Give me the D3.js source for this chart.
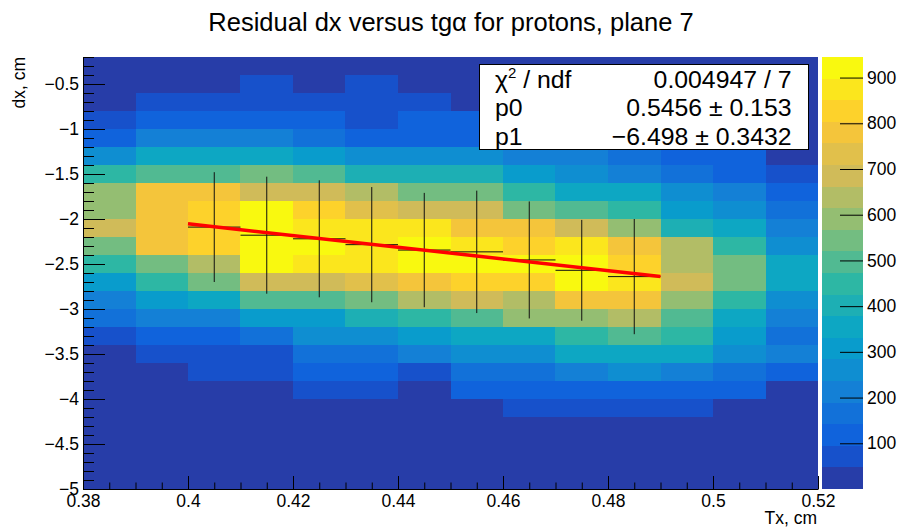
<!doctype html>
<html>
<head>
<meta charset="utf-8">
<title>Residual dx versus tgα for protons, plane 7</title>
<script src="https://d3js.org/d3.v7.min.js"></script>
<style>
  body { margin:0; background:#fff; }
  svg { display:block; font-family:"Liberation Sans", Arial, Helvetica, sans-serif; }
  .axis path, .axis line { stroke:#000; stroke-width:1; }
  .axis text { font-size:17.5px; fill:#000; }
</style>
</head>
<body>
<svg id="chart" width="902" height="529"></svg>
<script>

// bin edges of the 2D histogram
var txEdges = [0.38, 0.39, 0.40, 0.41, 0.42, 0.43, 0.44, 0.45, 0.46, 0.47, 0.48, 0.49, 0.50, 0.51, 0.52];
var dxEdges = [-0.2, -0.4, -0.6, -0.8, -1.0, -1.2, -1.4, -1.6, -1.8, -2.0, -2.2, -2.4, -2.6,
               -2.8, -3.0, -3.2, -3.4, -3.6, -3.8, -4.0, -4.2, -4.4, -4.6, -4.8, -5.0];

// bin contents, one row per dx bin (top row first), one column per Tx bin
var counts = [
  [ 12,  18,  21,  30,  24,  33,  20,  26,  31,  22,  17,  14,  10,   6],
  [ 25,  38,  44,  62,  41,  58,  45,  43,  55,  40,  35,  27,  19,  11],
  [ 42,  68,  76,  83,  79,  71,  74,  46,  72,  66,  60,  52,  39,  20],
  [ 88, 121, 132, 128, 117,  85, 112, 105, 110,  98,  89,  73,  56,  33],
  [124, 206, 218, 201, 172, 131, 136, 129, 150, 158, 118, 102,  78,  41],
  [254, 348, 356, 341, 305, 262, 251, 268, 213, 198, 171, 130, 112,  44],
  [447, 493, 506, 541, 488, 395, 402, 388, 301, 257, 210, 166, 120,  82],
  [588, 778, 772, 690, 681, 632, 546, 552, 438, 349, 342, 262, 205, 118],
  [596, 785, 822, 928, 819, 741, 688, 675, 533, 497, 440, 305, 248, 160],
  [671, 792, 826, 935, 872, 866, 862, 781, 770, 684, 592, 401, 352, 209],
  [538, 769, 831, 941, 915, 878, 912, 871, 829, 868, 772, 630, 445, 255],
  [442, 536, 641, 929, 877, 869, 918, 925, 908, 916, 825, 628, 537, 344],
  [301, 439, 548, 683, 675, 731, 781, 818, 812, 906, 860, 681, 541, 351],
  [206, 298, 346, 494, 502, 531, 637, 669, 642, 771, 766, 587, 440, 256],
  [162, 210, 218, 305, 299, 390, 437, 491, 585, 592, 626, 493, 352, 205],
  [ 73, 116, 121, 168, 252, 264, 311, 347, 352, 445, 487, 428, 300, 160],
  [ 36,  66,  78,  84, 156, 171, 212, 254, 262, 344, 357, 340, 259, 194],
  [ 18,  34,  62,  73, 112, 123,  82, 151, 162, 204, 245, 199, 158, 110],
  [  9,  21,  30,  37,  64,  70,  43, 104, 108, 117, 113, 110, 101,  38],
  [  6,  11,  16,  19,  26,  29,  22,  39,  60,  68,  66,  58,  35,  21],
  [  4,   6,   8,  11,  14,  15,  13,  17,  24,  28,  30,  26,  16,   9],
  [  2,   3,   5,   6,   7,   8,   7,   9,  11,  13,  14,  12,   8,   5],
  [  1,   2,   2,   3,   3,   4,   3,   4,   5,   6,   6,   5,   4,   2],
  [  1,   1,   1,   2,   2,   2,   2,   2,   3,   3,   3,   3,   2,   1]
];
var zMax = 945;

// profile points (mean dx and spread per Tx bin)
var profTx   = [0.405, 0.415, 0.425, 0.435, 0.445, 0.455, 0.465, 0.475, 0.485];
var profMean = [-2.09, -2.18, -2.22, -2.285, -2.345, -2.365, -2.455, -2.57, -2.64];
var profErr  = [0.61, 0.65, 0.65, 0.64, 0.635, 0.68, 0.65, 0.56, 0.64];
var profHalfWidth = 0.005;

// linear fit pol1
var fitRange = [0.40, 0.49];
var fitP0 = 0.5456, fitP1 = -6.498;
var statsRows = [
  {name: "ndf", value: "0.004947 / 7"},
  {name: "p0",  value: "0.5456 \u00b1 0.153"},
  {name: "p1",  value: "\u22126.498 \u00b1 0.3432"}
];

// axis ticks
var xTicks = [0.38, 0.40, 0.42, 0.44, 0.46, 0.48, 0.50, 0.52];
var xTickLabels = ["0.38", "0.4", "0.42", "0.44", "0.46", "0.48", "0.5", "0.52"];
var yTicks = [-5, -4.5, -4, -3.5, -3, -2.5, -2, -1.5, -1, -0.5];
var yTickLabels = ["\u22125", "\u22124.5", "\u22124", "\u22123.5", "\u22123", "\u22122.5", "\u22122", "\u22121.5", "\u22121", "\u22120.5"];
var zTicks = [100, 200, 300, 400, 500, 600, 700, 800, 900];

// ROOT kBird palette
var birdStops = [0.0, 0.125, 0.25, 0.375, 0.5, 0.625, 0.75, 0.875, 1.0];
var birdRed   = [0.2082, 0.0592, 0.0780, 0.0232, 0.1802, 0.5301, 0.8186, 0.9956, 0.9764];
var birdGreen = [0.1664, 0.3599, 0.5041, 0.6419, 0.7178, 0.7492, 0.7328, 0.7862, 0.9832];
var birdBlue  = [0.5293, 0.8684, 0.8385, 0.7914, 0.6425, 0.4662, 0.3499, 0.1968, 0.0539];
var nContours = 20;

var margin = {left: 83, right: 818, top: 57, bottom: 489};

var svg = d3.select("#chart");

var x = d3.scaleLinear().domain([0.38, 0.52]).range([margin.left, margin.right]);
var y = d3.scaleLinear().domain([-5, -0.2]).range([margin.bottom, margin.top]);

var bird = d3.scaleLinear()
    .domain(birdStops)
    .range(birdStops.map(function(s, i) {
      return d3.rgb(birdRed[i] * 255, birdGreen[i] * 255, birdBlue[i] * 255);
    }));
var levelColors = d3.range(nContours).map(function(i) {
  return bird(Math.floor((i + 0.99) * 255 / nContours) / 255);
});
var color = d3.scaleQuantize().domain([0, zMax]).range(levelColors);

// cells
var cells = [];
counts.forEach(function(row, r) {
  row.forEach(function(v, c) {
    cells.push({r: r, c: c, v: v});
  });
});

svg.append("g")
  .attr("shape-rendering", "crispEdges")
  .selectAll("rect")
  .data(cells)
  .join("rect")
    .attr("x", function(d) { return Math.round(x(txEdges[d.c])); })
    .attr("y", function(d) { return Math.round(y(dxEdges[d.r])); })
    .attr("width", function(d) { return Math.round(x(txEdges[d.c + 1])) - Math.round(x(txEdges[d.c])); })
    .attr("height", function(d) { return Math.round(y(dxEdges[d.r + 1])) - Math.round(y(dxEdges[d.r])); })
    .attr("fill", function(d) { return color(d.v); });

// axes
var xMinor = d3.range(0.38, 0.5201, 0.005);
var yMinor = d3.range(-5, -0.19, 0.1);

svg.append("g").attr("class", "axis")
  .attr("transform", "translate(0," + margin.bottom + ")")
  .call(d3.axisBottom(x).tickValues(xMinor).tickSize(-6.5).tickFormat(""))
  .call(function(g) { g.select(".domain").remove(); });

svg.append("g").attr("class", "axis")
  .attr("transform", "translate(0," + margin.bottom + ")")
  .call(d3.axisBottom(x).tickValues(xTicks).tickSizeInner(-13).tickSizeOuter(0).tickPadding(6)
    .tickFormat(function(d, i) { return xTickLabels[i]; }));

svg.append("g").attr("class", "axis")
  .attr("transform", "translate(" + margin.left + ",0)")
  .call(d3.axisLeft(y).tickValues(yMinor).tickSize(-11).tickFormat(""))
  .call(function(g) { g.select(".domain").remove(); });

svg.append("g").attr("class", "axis")
  .attr("transform", "translate(" + margin.left + ",0)")
  .call(d3.axisLeft(y).tickValues(yTicks).tickSizeInner(-22).tickSizeOuter(0).tickPadding(4)
    .tickFormat(function(d, i) { return yTickLabels[i]; }));

// profile error bars
var prof = svg.append("g").attr("stroke", "#111").attr("stroke-width", 1);
profTx.forEach(function(t, i) {
  prof.append("line")
    .attr("x1", x(t)).attr("x2", x(t))
    .attr("y1", y(profMean[i] + profErr[i])).attr("y2", y(profMean[i] - profErr[i]));
  prof.append("line")
    .attr("x1", x(t - profHalfWidth)).attr("x2", x(t + profHalfWidth))
    .attr("y1", y(profMean[i])).attr("y2", y(profMean[i]));
});

// fit line
var fitLine = d3.line()
    .x(function(t) { return x(t); })
    .y(function(t) { return y(fitP0 + fitP1 * t); });
svg.append("path")
  .attr("d", fitLine(fitRange))
  .attr("fill", "none")
  .attr("stroke", "#ff0000")
  .attr("stroke-width", 3.5);

// stats box
var stats = svg.append("g");
stats.append("rect")
  .attr("x", 479.5).attr("y", 64.5).attr("width", 329).attr("height", 85)
  .attr("fill", "#fff").attr("stroke", "#000").attr("stroke-width", 1);
statsRows.forEach(function(row, i) {
  var by = 87.5 + i * 28.5;
  var label = stats.append("text")
    .attr("x", 495).attr("y", by)
    .attr("font-size", "24.8px");
  if (i === 0) {
    label.append("tspan").text("\u03c7");
    label.append("tspan").attr("font-size", "15px").attr("dy", -10).text("2");
    label.append("tspan").attr("dy", 10).text(" / " + row.name);
  } else {
    label.text(row.name);
  }
  stats.append("text")
    .attr("x", 791.5).attr("y", by)
    .attr("text-anchor", "end")
    .attr("font-size", "24.8px")
    .text(row.value);
});

// palette
var z = d3.scaleLinear().domain([0, zMax]).range([margin.bottom, margin.top]);
var pal = svg.append("g").attr("shape-rendering", "crispEdges");
pal.selectAll("rect")
  .data(levelColors)
  .join("rect")
    .attr("x", 822)
    .attr("width", 41)
    .attr("y", function(d, i) { return Math.round(z((i + 1) * zMax / nContours)); })
    .attr("height", function(d, i) { return Math.round(z(i * zMax / nContours)) - Math.round(z((i + 1) * zMax / nContours)); })
    .attr("fill", function(d) { return d; });

svg.append("g").attr("class", "axis")
  .attr("transform", "translate(863,0)")
  .call(d3.axisRight(z).tickValues(zTicks).tickSizeInner(-23).tickSizeOuter(0).tickPadding(4)
    .tickFormat(d3.format("d")))
  .call(function(g) { g.select(".domain").remove(); });

// titles
svg.append("text")
  .attr("x", 451).attr("y", 31)
  .attr("text-anchor", "middle")
  .attr("font-size", "25.5px")
  .text("Residual dx versus tg\u03b1 for protons, plane 7");

svg.append("text")
  .attr("transform", "translate(25," + margin.top + ") rotate(-90)")
  .attr("text-anchor", "end")
  .attr("font-size", "17.5px")
  .text("dx, cm");

svg.append("text")
  .attr("x", 817).attr("y", 524)
  .attr("text-anchor", "end")
  .attr("font-size", "17.5px")
  .text("Tx, cm");

</script>
</body>
</html>
